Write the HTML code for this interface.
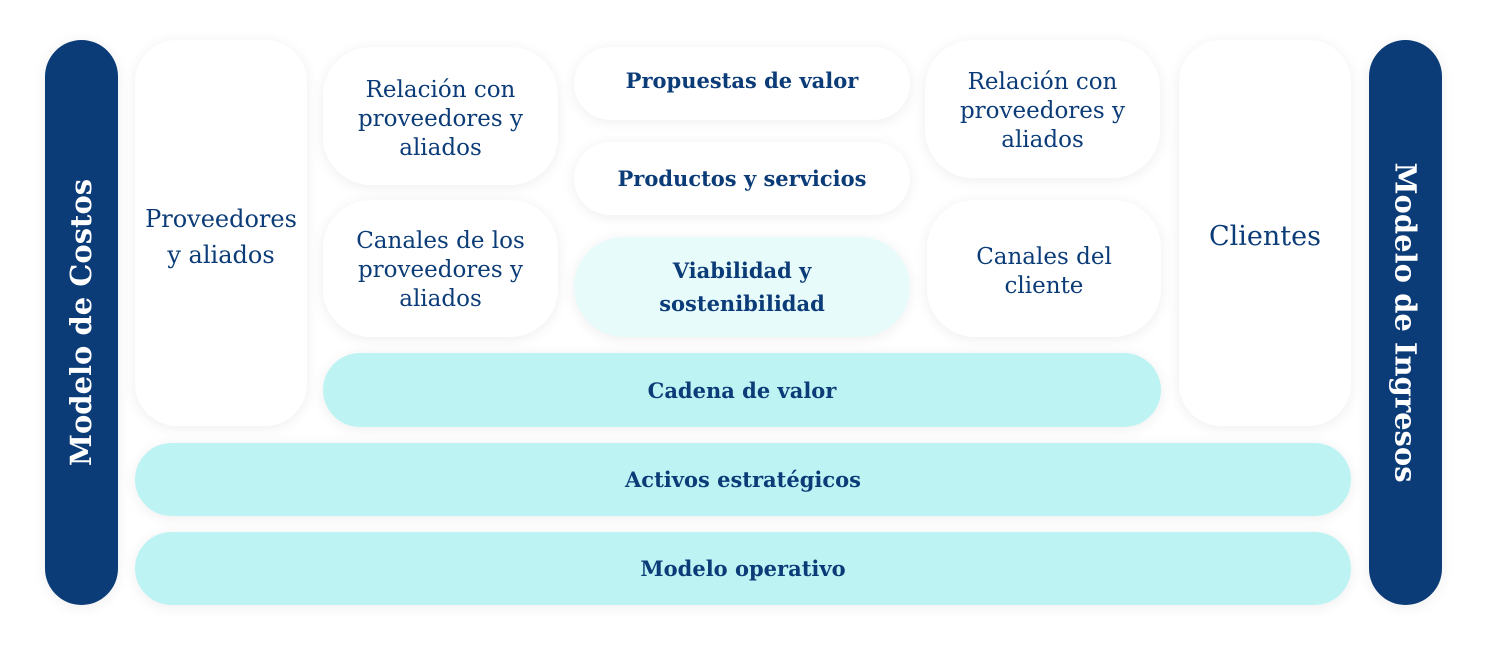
<!DOCTYPE html>
<html><head><meta charset="utf-8"><style>
html,body{margin:0;padding:0;background:#fff;}
body{width:1488px;height:656px;position:relative;overflow:hidden;font-family:"DejaVu Serif","Liberation Serif",serif;color:#0b3c78;}
.b{position:absolute;display:flex;align-items:center;justify-content:center;text-align:center;box-sizing:border-box;box-shadow:0 2px 14px rgba(0,0,0,0.07);font-size:23px;line-height:29px;}
.w{background:#fff;}
.c{background:#bdf3f3;font-weight:bold;font-size:21px;}
.l{background:#e8fbfb;font-weight:bold;font-size:21px;}
.n{background:#0b3c78;color:#fff;font-weight:bold;font-size:29px;border-radius:37px;}
.n span{white-space:nowrap;}
</style></head><body>
<div class="b n" style="left:45px;top:40px;width:73px;height:565px;"><span style="transform:rotate(-90deg)">Modelo de Costos</span></div>
<div class="b n" style="left:1369px;top:40px;width:73px;height:565px;"><span style="transform:rotate(90deg)">Modelo de Ingresos</span></div>
<div class="b w" style="left:135px;top:40px;width:172px;height:386px;border-radius:42px;padding-top:8px;font-size:24px;line-height:36px;">Proveedores<br>y aliados</div>
<div class="b w" style="left:323px;top:47px;width:235px;height:138px;border-radius:48px;padding-top:6px;">Relación con<br>proveedores y<br>aliados</div>
<div class="b w" style="left:323px;top:200px;width:235px;height:137px;border-radius:48px;padding-top:4px;">Canales de los<br>proveedores y<br>aliados</div>
<div class="b w" style="left:574px;top:47px;width:336px;height:73px;border-radius:37px;font-weight:bold;font-size:21px;padding-bottom:6px;">Propuestas de valor</div>
<div class="b w" style="left:574px;top:142px;width:336px;height:73px;border-radius:37px;font-weight:bold;font-size:21px;">Productos y servicios</div>
<div class="b l" style="left:574px;top:237px;width:336px;height:100px;border-radius:50px;line-height:33px;">Viabilidad y<br>sostenibilidad</div>
<div class="b w" style="left:925px;top:40px;width:235px;height:138px;border-radius:48px;padding-top:4px;">Relación con<br>proveedores y<br>aliados</div>
<div class="b w" style="left:927px;top:200px;width:234px;height:137px;border-radius:48px;padding-top:6px;">Canales del<br>cliente</div>
<div class="b w" style="left:1179px;top:40px;width:172px;height:386px;border-radius:42px;padding-top:6px;font-size:27px;">Clientes</div>
<div class="b c" style="left:323px;top:353px;width:838px;height:74px;border-radius:37px;">Cadena de valor</div>
<div class="b c" style="left:135px;top:443px;width:1216px;height:73px;border-radius:37px;">Activos estratégicos</div>
<div class="b c" style="left:135px;top:532px;width:1216px;height:73px;border-radius:37px;">Modelo operativo</div>
</body></html>
